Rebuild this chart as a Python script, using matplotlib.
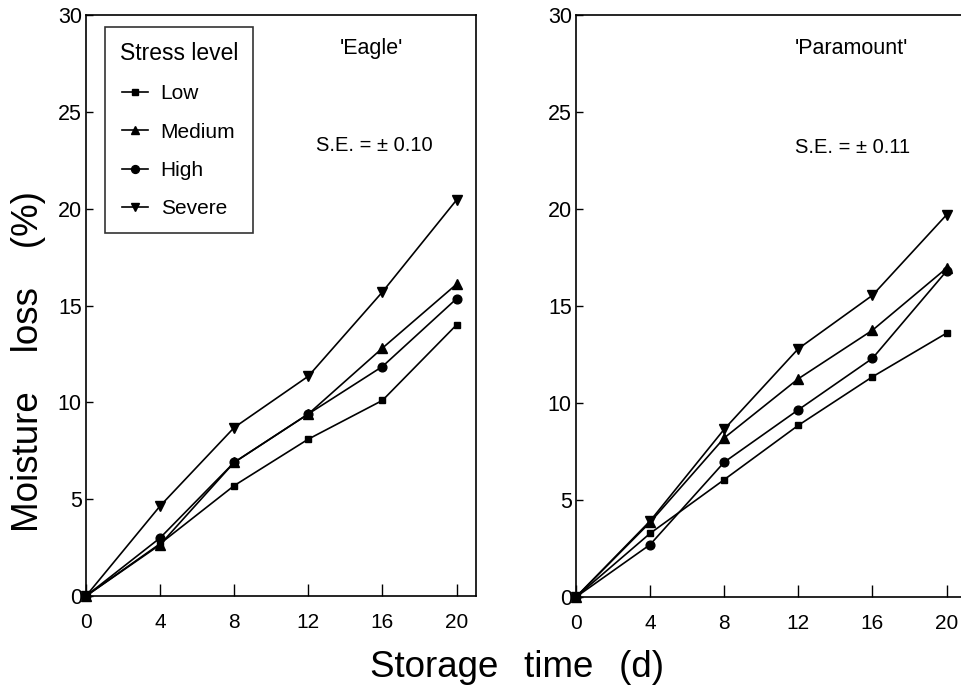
import matplotlib
matplotlib.use("Agg")
import matplotlib.pyplot as plt

# ---------------- data ----------------
days = [0, 4, 8, 12, 16, 20]
levels = ["Low", "Medium", "High", "Severe"]
markers = ["s", "^", "o", "v"]
msizes = [4.5, 6.5, 6.3, 6.5]

eagle_low = [0, 2.7, 5.7, 8.1, 10.1, 14.0]
eagle_medium = [0, 2.65, 6.9, 9.4, 12.8, 16.1]
eagle_high = [0, 3.0, 6.9, 9.4, 11.85, 15.35]
eagle_severe = [0, 4.65, 8.7, 11.35, 15.7, 20.45]

para_low = [0, 3.28, 6.05, 8.85, 11.35, 13.6]
para_medium = [0, 3.85, 8.2, 11.25, 13.75, 16.95]
para_high = [0, 2.7, 6.95, 9.65, 12.3, 16.8]
para_severe = [0, 3.92, 8.65, 12.8, 15.55, 19.7]

panels = [
    ("'Eagle'", "S.E. = \u00b1 0.10", [eagle_low, eagle_medium, eagle_high, eagle_severe]),
    ("'Paramount'", "S.E. = \u00b1 0.11", [para_low, para_medium, para_high, para_severe]),
]
xticks = [0, 4, 8, 12, 16, 20]
yticks = [0, 5, 10, 15, 20, 25, 30]

plt.rcParams["font.family"] = ["Liberation Sans", "DejaVu Sans"]

fig = plt.figure(figsize=(9.62, 6.92), dpi=100)
positions = [
    [86 / 962, 1 - 596 / 692, 390 / 962, 581 / 692],
    [576 / 962, 1 - 597 / 692, 390 / 962, 582 / 692],
]
title_pos = [(0.733, 0.943), (0.705, 0.943)]
se_pos = [(0.740, 0.776), (0.708, 0.773)]

axes = []
for i, (title, se, series) in enumerate(panels):
    ax = fig.add_axes(positions[i])
    axes.append(ax)
    for vals, lab, mk, ms in zip(series, levels, markers, msizes):
        ax.plot(days, vals, color="black", lw=1.2, marker=mk, ms=ms,
                label=lab, clip_on=False, zorder=3)
    ax.set_xlim(0, 21.05)
    ax.set_ylim(0, 30)
    ax.set_xticks(xticks)
    ax.set_yticks(yticks)
    ax.tick_params(axis="x", direction="in", length=8.5, width=1, pad=12,
                   labelsize=15)
    ax.tick_params(axis="y", direction="in", length=5, width=1, pad=3,
                   labelsize=15.5)
    for sp in ax.spines.values():
        sp.set_linewidth(1.2)
    ax.text(*title_pos[i], title, transform=ax.transAxes, ha="center",
            va="center", fontsize=15.5)
    ax.text(*se_pos[i], se, transform=ax.transAxes, ha="center",
            va="center", fontsize=14.5)

leg = axes[0].legend(title="Stress level", loc="upper left",
                     bbox_to_anchor=(0.0487, 0.979), borderaxespad=0,
                     frameon=True, fancybox=False, edgecolor="black",
                     fontsize=15, title_fontsize=16.5, handlelength=1.25,
                     handletextpad=0.6, labelspacing=0.93, borderpad=0.7,
                     markerscale=0.9)
leg.get_frame().set_linewidth(1.2)

fig.text(29 / 962, 1 - 362 / 692, "Moisture\u2002  loss\u2002  (%)", rotation=90,
         ha="center", va="center", fontsize=26.5)
fig.text(517 / 962, 1 - 677 / 692, "Storage\u2002\u2009time\u2002\u2009(d)",
         ha="center", va="baseline", fontsize=26.5)

fig.savefig("out.png", dpi=100, facecolor="white")
